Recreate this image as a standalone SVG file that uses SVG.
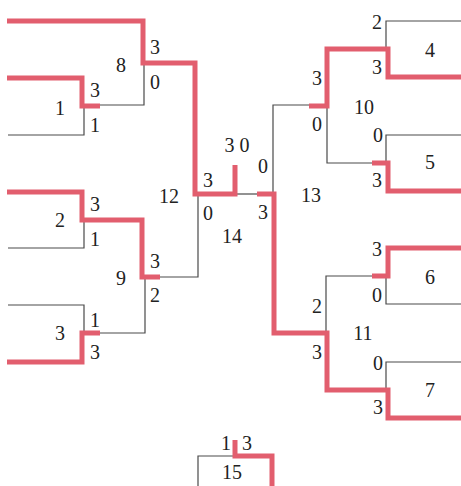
<svg xmlns="http://www.w3.org/2000/svg" width="461" height="486" viewBox="0 0 461 486">
<style>
.w{fill:none;stroke:#E25E6E;stroke-width:5;stroke-linejoin:miter;stroke-linecap:butt}
.t{fill:none;stroke:#4a4a4a;stroke-width:1.2}
.lb text{font-family:"Liberation Serif","Times New Roman",serif;font-size:20px;fill:#222;text-anchor:middle}
</style>
<rect width="461" height="486" fill="#fff"/>
<g id="connectors">
<path class="t" d="M100,105 H144 V65"/>
<path class="t" d="M8,135 H84 V108"/>
<path class="t" d="M160,277 H198 V196"/>
<path class="t" d="M8,248 H84 V222"/>
<path class="t" d="M8,305 H84 V331"/>
<path class="t" d="M100,333 H145 V279"/>
<path class="t" d="M235,194 H257"/>
<path class="t" d="M273,194 V105 H309"/>
<path class="t" d="M386,47 V21 H461"/>
<path class="t" d="M327,108 V163 H372"/>
<path class="t" d="M386,161 V135 H461"/>
<path class="t" d="M372,276 H326 V331"/>
<path class="t" d="M386,278 V304 H461"/>
<path class="t" d="M386,388 V362 H461"/>
<path class="t" d="M198,486 V456 H235"/>
<path class="w" d="M7,21 H143 V63 H195 V194 H235 V165"/>
<path class="w" d="M7,78 H82 V106 H100"/>
<path class="w" d="M7,192 H82 V220 H142 V277 H160"/>
<path class="w" d="M7,362 H82 V333 H100"/>
<path class="w" d="M257,194 H274 V333 H327 V390 H388 V418 H461"/>
<path class="w" d="M309,106 H327 V49 H388 V77 H461"/>
<path class="w" d="M372,163 H388 V191 H461"/>
<path class="w" d="M461,248 H388 V276 H372"/>
<path class="w" d="M235,440 V456 H272 V486"/>
</g>
<g class="lb">
<g id="team1"><text x="60" y="115">1</text></g>
<g id="team2"><text x="60" y="227">2</text></g>
<g id="team3"><text x="60" y="340">3</text></g>
<g id="team4"><text x="430" y="57">4</text></g>
<g id="team5"><text x="430" y="169">5</text></g>
<g id="team6"><text x="430" y="284">6</text></g>
<g id="team7"><text x="430" y="397">7</text></g>
<g id="match1"><text x="95" y="97">3</text><text x="95" y="132">1</text></g>
<g id="match8"><text x="121" y="72">8</text><text x="155" y="54">3</text><text x="155" y="89">0</text></g>
<g id="match2"><text x="95" y="211">3</text><text x="95" y="246">1</text></g>
<g id="match3"><text x="95" y="327">1</text><text x="95" y="359">3</text></g>
<g id="match9"><text x="121" y="285">9</text><text x="155" y="268">3</text><text x="155" y="302">2</text></g>
<g id="match12"><text x="169" y="203">12</text><text x="208" y="187">3</text><text x="208" y="220">0</text></g>
<g id="match14"><text x="232" y="243">14</text><text x="237" y="152">3 0</text></g>
<g id="match4"><text x="377" y="29">2</text><text x="377" y="74">3</text></g>
<g id="match10"><text x="364" y="114">10</text><text x="317" y="85">3</text><text x="317" y="131">0</text></g>
<g id="match5"><text x="378" y="142">0</text><text x="377" y="187">3</text></g>
<g id="match13"><text x="311" y="202">13</text><text x="263" y="173">0</text><text x="263" y="219">3</text></g>
<g id="match6"><text x="377" y="256">3</text><text x="377" y="302">0</text></g>
<g id="match11"><text x="363" y="340">11</text><text x="317" y="313">2</text><text x="317" y="359">3</text></g>
<g id="match7"><text x="378" y="370">0</text><text x="378" y="414">3</text></g>
<g id="match15"><text x="232" y="479">15</text><text x="226" y="450">1</text><text x="247" y="450">3</text></g>
</g>
</svg>
